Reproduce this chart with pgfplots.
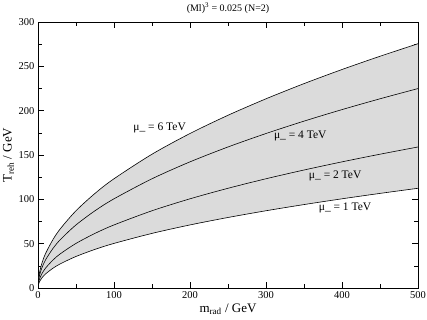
\documentclass[border=0pt]{standalone}
\usepackage{pgfplots}
\pgfplotsset{compat=1.18}
\usepgfplotslibrary{fillbetween}
\usepackage{fontspec}
\setmainfont{Liberation Serif}
\pgfplotstableread{
m T1 T2 T4 T6
0 0 0 0 0
0.25 2.52 3.56 5.03 6.16
1 5.03 7.11 10.06 12.32
2 7.11 10.06 14.22 17.42
5 11.25 15.91 22.50 27.56
10 15.91 22.50 31.82 38.97
20 22.49 31.81 44.98 55.09
30 27.55 38.96 55.10 67.48
50 35.57 50.30 71.14 87.13
75 43.56 61.60 87.12 106.70
100 50.30 71.14 100.60 123.21
150 61.60 87.12 123.20 150.89
200 71.14 100.60 142.28 174.26
250 79.53 112.47 159.06 194.81
300 87.12 123.21 174.24 213.40
350 94.10 133.08 188.20 230.50
400 100.60 142.27 201.20 246.42
450 106.70 150.89 213.40 261.36
500 112.47 159.06 224.94 275.50
}\curves
\begin{document}
\begin{tikzpicture}
\begin{axis}[
  at={(0pt,0pt)}, anchor=south west,
  scale only axis, width=380pt, height=266pt,
  xmin=0, xmax=500, ymin=0, ymax=300,
  xtick={0,100,...,500}, minor xtick={50,150,...,450},
  ytick={0,50,...,300}, minor ytick={25,75,...,275},
  tick align=inside, major tick length=6pt, minor tick length=4pt,
  tick style={black, line width=0.5pt},
  axis line style={line width=0.6pt},
  ticklabel style={font=\fontsize{10.5}{11}\selectfont},
  /pgf/number format/assume math mode=true,
  xlabel={m\textsubscript{rad} / GeV},
  ylabel={T\textsubscript{reh} / GeV},
  label style={font=\fontsize{13}{14}\selectfont},
  xlabel style={yshift=2pt},
  ylabel style={yshift=-2pt},
  title={(Ml)\textsuperscript{3} = 0.025 (N=2)},
  title style={font=\fontsize{10}{11}\selectfont, yshift=-1pt},
]
\addplot[name path=top, draw=none, no marks, smooth] table[x=m,y=T6] {\curves};
\addplot[name path=bot, draw=none, no marks, smooth] table[x=m,y=T1] {\curves};
\addplot[fill=black!14, draw=none] fill between[of=top and bot];
\addplot[black, line width=0.6pt, no marks, smooth] table[x=m,y=T6] {\curves};
\addplot[black, line width=0.6pt, no marks, smooth] table[x=m,y=T4] {\curves};
\addplot[black, line width=0.6pt, no marks, smooth] table[x=m,y=T2] {\curves};
\addplot[black, line width=0.6pt, no marks, smooth] table[x=m,y=T1] {\curves};
\node[font=\fontsize{11.5}{12}\selectfont] at (axis cs:160,181) {μ\_ = 6 TeV};
\node[font=\fontsize{11.5}{12}\selectfont] at (axis cs:345,171) {μ\_ = 4 TeV};
\node[font=\fontsize{11.5}{12}\selectfont] at (axis cs:391,126) {μ\_ = 2 TeV};
\node[font=\fontsize{11.5}{12}\selectfont] at (axis cs:404,90) {μ\_ = 1 TeV};
\end{axis}
\pgfresetboundingbox
\path[use as bounding box] (-38pt,-31pt) rectangle (389pt,288pt);
\end{tikzpicture}
\end{document}
